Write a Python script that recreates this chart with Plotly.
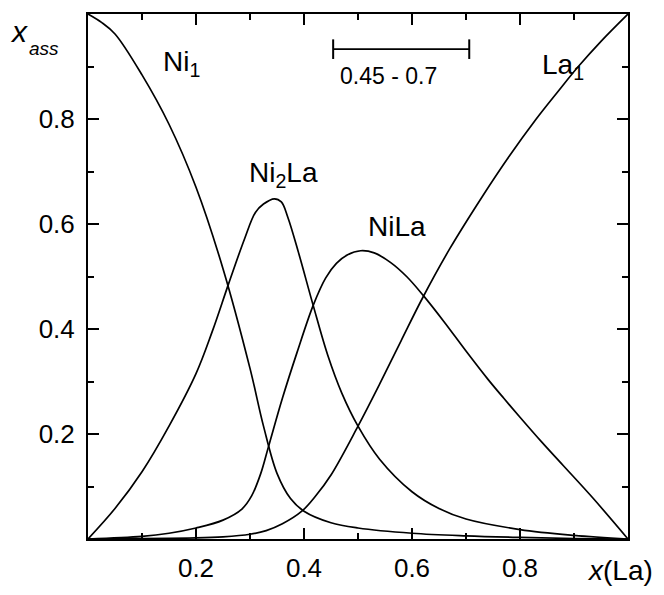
import plotly.graph_objects as go

# ---- data ----
ni1_x = [0, 0.025, 0.05, 0.1, 0.15, 0.2, 0.25, 0.3, 0.325, 0.35, 0.375, 0.4, 0.45, 0.5, 0.6, 0.7, 0.8, 0.9, 1.0]
ni1_y = [1.0, 0.984, 0.962, 0.884, 0.79, 0.67, 0.515, 0.325, 0.215, 0.125, 0.077, 0.053, 0.031, 0.021, 0.011, 0.006, 0.003, 0.001, 0.0]

ni2la_x = [0, 0.05, 0.1, 0.15, 0.2, 0.23, 0.26, 0.29, 0.31, 0.325, 0.345, 0.358, 0.37, 0.39, 0.417, 0.444, 0.47, 0.5, 0.54, 0.6, 0.65, 0.7, 0.8, 0.9, 1.0]
ni2la_y = [0, 0.058, 0.128, 0.215, 0.315, 0.395, 0.485, 0.572, 0.622, 0.638, 0.648, 0.642, 0.613, 0.545, 0.445, 0.35, 0.278, 0.215, 0.152, 0.09, 0.058, 0.038, 0.018, 0.007, 0.0]

nila_x = [0, 0.1, 0.15, 0.2, 0.25, 0.285, 0.303, 0.32, 0.334, 0.36, 0.387, 0.417, 0.44, 0.46, 0.48, 0.505, 0.53, 0.56, 0.59, 0.62, 0.66, 0.7, 0.74, 0.77, 0.8, 0.84, 0.88, 0.935, 1.0]
nila_y = [0, 0.005, 0.011, 0.021, 0.036, 0.057, 0.082, 0.125, 0.175, 0.268, 0.355, 0.445, 0.497, 0.525, 0.541, 0.549, 0.545, 0.527, 0.5, 0.465, 0.413, 0.358, 0.305, 0.268, 0.232, 0.185, 0.14, 0.078, 0.0]

la1_x = [0, 0.2, 0.25, 0.3, 0.33, 0.36, 0.396, 0.42, 0.45, 0.5, 0.54, 0.58, 0.62, 0.67, 0.73, 0.78, 0.83, 0.87, 0.908, 0.95, 1.0]
la1_y = [0, 0.002, 0.004, 0.009, 0.016, 0.029, 0.053, 0.08, 0.122, 0.215, 0.295, 0.378, 0.46, 0.553, 0.652, 0.729, 0.8, 0.852, 0.9, 0.948, 1.0]

range_x = [0.454, 0.706]
range_y = [0.933, 0.933]
range_label = "0.45 - 0.7"

tick_vals = [0.2, 0.4, 0.6, 0.8]
tick_text = ["0.2", "0.4", "0.6", "0.8"]

FONT = "Liberation Sans, Arial, sans-serif"
line_style = dict(color="black", width=1.7, shape="spline", smoothing=1.0)

fig = go.Figure()
for xs, ys, name in [(ni1_x, ni1_y, "Ni1"), (ni2la_x, ni2la_y, "Ni2La"),
                     (nila_x, nila_y, "NiLa"), (la1_x, la1_y, "La1")]:
    fig.add_trace(go.Scatter(x=xs, y=ys, mode="lines", line=line_style,
                             name=name, showlegend=False, hoverinfo="skip"))

fig.add_trace(go.Scatter(x=range_x, y=range_y, mode="lines+markers",
                         line=dict(color="black", width=1.7),
                         marker=dict(symbol="line-ns", size=14,
                                     line=dict(color="black", width=2)),
                         showlegend=False, hoverinfo="skip"))

axis_common = dict(
    range=[0, 1], showgrid=False, zeroline=False,
    showline=True, linecolor="black", linewidth=2, mirror="ticks",
    ticks="inside", ticklen=11, tickwidth=2, tickcolor="black",
    tickvals=tick_vals, ticktext=tick_text,
    tickfont=dict(family=FONT, size=26, color="black"),
    minor=dict(ticks="inside", ticklen=6, tickwidth=2, tickcolor="black",
               dtick=0.1, tick0=0),
)
fig.update_xaxes(**axis_common, ticklabelstandoff=5)
fig.update_yaxes(**axis_common, ticklabelstandoff=6)

lab_font = dict(family=FONT, size=28, color="black")
annots = [
    dict(x=0.135, y=0.905, text="Ni<sub>1</sub>", xanchor="left", yanchor="middle"),
    dict(x=0.837, y=0.9, text="La<sub>1</sub>", xanchor="left", yanchor="middle"),
    dict(x=0.295, y=0.695, text="Ni<sub>2</sub>La", xanchor="left", yanchor="middle"),
    dict(x=0.514, y=0.595, text="NiLa", xanchor="left", yanchor="middle"),
]
for a in annots:
    fig.add_annotation(xref="x", yref="y", showarrow=False, font=lab_font, **a)

fig.add_annotation(xref="x", yref="y", x=0.557, y=0.882, text=range_label,
                   showarrow=False, xanchor="center", yanchor="middle",
                   font=dict(family=FONT, size=23, color="black"))

# axis titles
fig.add_annotation(xref="paper", yref="paper", x=-0.148, y=0.967, text="<i>x</i>",
                   showarrow=False, xanchor="left", yanchor="middle",
                   font=dict(family=FONT, size=30, color="black"))
fig.add_annotation(xref="paper", yref="paper", x=-0.113, y=0.935, text="<i>ass</i>",
                   showarrow=False, xanchor="left", yanchor="middle",
                   font=dict(family=FONT, size=19, color="black"))
fig.add_annotation(xref="paper", yref="paper", x=1.05, y=-0.06,
                   text="<i>x</i>(La)", showarrow=False, xanchor="right", yanchor="middle",
                   font=dict(family=FONT, size=28, color="black"))

fig.update_layout(
    width=664, height=595,
    margin=dict(l=88, r=36, t=13, b=50),
    paper_bgcolor="white", plot_bgcolor="white",
    showlegend=False,
)

fig.write_html("out.html")
